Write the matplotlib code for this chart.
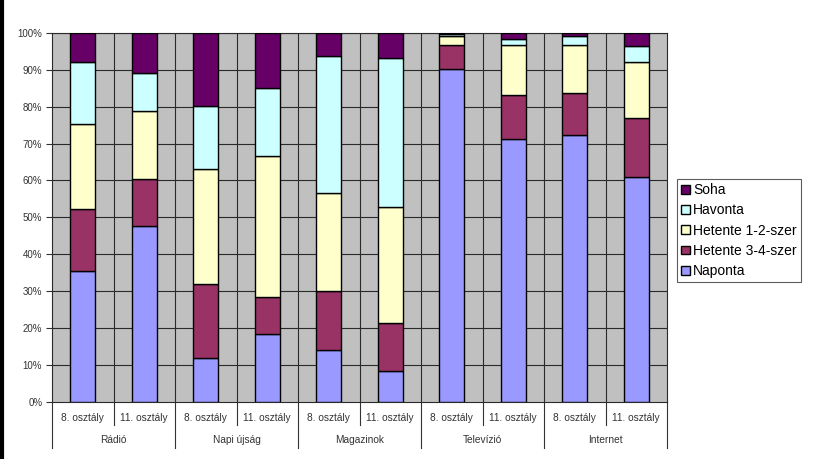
import matplotlib
matplotlib.use("Agg")
import matplotlib.pyplot as plt
from matplotlib.lines import Line2D
import numpy as np

plt.rcParams['font.family'] = ['Liberation Sans', 'DejaVu Sans']

groups = ["Rádió", "Napi újság", "Magazinok", "Televízió", "Internet"]
classes = ["8. osztály", "11. osztály"]

series_names = ["Naponta", "Hetente 3-4-szer", "Hetente 1-2-szer", "Havonta", "Soha"]
naponta   = [35.5, 47.5, 11.9, 18.2, 14.1,  8.4, 90.3, 71.2, 72.2, 60.9]
hetente34 = [16.8, 12.9, 20.0, 10.1, 15.8, 12.9,  6.4, 12.0, 11.5, 16.1]
hetente12 = [22.9, 18.5, 31.3, 38.2, 26.6, 31.6,  2.6, 13.5, 13.0, 15.1]
havonta   = [16.9, 10.2, 16.9, 18.7, 37.2, 40.2,  0.5,  1.7,  2.6,  4.4]
soha      = [ 7.9, 10.9, 19.9, 14.8,  6.3,  6.9,  0.2,  1.6,  0.7,  3.5]

colors = ["#9999FF", "#993366", "#FFFFCC", "#CCFFFF", "#660066"]
series = [naponta, hetente34, hetente12, havonta, soha]

fig = plt.figure(figsize=(8.15, 4.59), dpi=100)
ax = fig.add_axes([52 / 815, 1 - 401.5 / 459, 615 / 815, 368.5 / 459])
ax.set_facecolor("#C0C0C0")

n = len(naponta)
x = np.arange(n)
bottom = np.zeros(n)
handles = []
for name, vals, col in zip(series_names, series, colors):
    vals = np.array(vals, dtype=float)
    b = ax.bar(x, vals, width=0.4, bottom=bottom, color=col,
               edgecolor="black", linewidth=1.0, label=name, zorder=3)
    handles.append(b)
    bottom += vals

ax.set_xlim(-0.5, n - 0.5)
ax.set_ylim(0, 100)
ax.set_yticks(np.arange(0, 101, 10))
ax.set_yticklabels([f"{v}%" for v in range(0, 101, 10)], fontsize=7, color="#333333")
ax.tick_params(axis="y", length=4, width=0.8, color="#333333", pad=3)
ax.set_xticks([])

# horizontal and vertical grid
for v in range(10, 101, 10):
    ax.axhline(v, color="#2a2a2a", lw=0.8, zorder=1)
for xb in np.arange(0.5, n - 0.5, 1.0):
    ax.axvline(xb, color="#2a2a2a", lw=0.8, zorder=1)

for s in ax.spines.values():
    s.set_color("#2a2a2a")
    s.set_linewidth(0.8)

# two-level category axis
h = 368.5
trans = ax.get_xaxis_transform()
for i in range(n):
    ax.text(i, -16.5 / h, classes[i % 2], transform=trans, ha="center",
            va="center", fontsize=7.3, color="#333333")
for xb in np.arange(0.5, n - 0.5, 2.0):
    ax.plot([xb, xb], [0, -23.5 / h], transform=trans, color="#333333",
            lw=0.8, clip_on=False)
for xb in np.arange(-0.5, n, 2.0):
    ax.plot([xb, xb], [0, -46.5 / h], transform=trans, color="#333333",
            lw=0.8, clip_on=False)
for g, name in enumerate(groups):
    ax.text(2 * g + 0.5, -38.5 / h, name, transform=trans, ha="center",
            va="center", fontsize=7.3, color="#333333")

leg = fig.legend(handles[::-1], series_names[::-1], loc="upper left",
                 bbox_to_anchor=(677 / 815, 1 - 179 / 459), fontsize=10,
                 frameon=True, fancybox=False, handlelength=0.6,
                 handleheight=0.6, handletextpad=0.25, labelspacing=0.45,
                 borderpad=0.3, borderaxespad=0)
leg.get_frame().set_edgecolor("#333333")
leg.get_frame().set_linewidth(0.8)

fig.add_artist(Line2D([2 / 815, 2 / 815], [0, 1], color="black", lw=3,
                      transform=fig.transFigure))

fig.savefig("out.png", dpi=100)
